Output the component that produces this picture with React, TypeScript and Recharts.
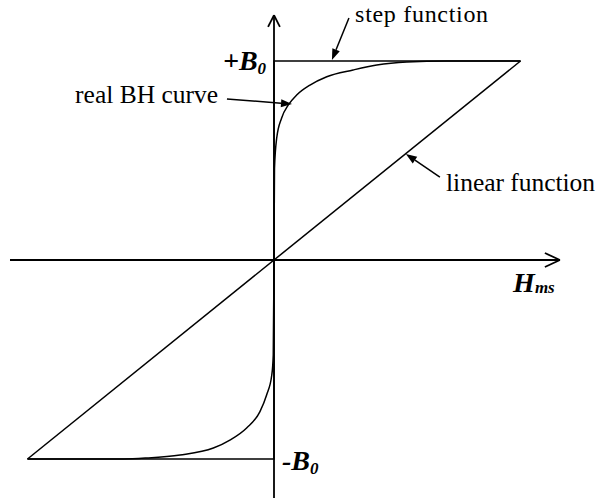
import React from 'react';
import { LineChart, Line, XAxis, YAxis, ReferenceLine, ReferenceDot } from 'recharts';

// normalised field strength H / H_max and flux density B / B0
const linearField = [-1, 1];
const linearFlux = [-1, 1];

const stepField = [-1, 0, 0, 1];
const stepFlux = [-1, -1, 1, 1];

const bhField = [
  -1.0, -0.61, -0.516, -0.381, -0.246, -0.179, -0.111, -0.057, -0.03, -0.009, -0.003,
  0, 0.002, 0.011, 0.031, 0.058, 0.092, 0.146, 0.214, 0.321, 0.417, 0.539, 0.7, 1.0,
];
const bhFlux = [
  -1.0, -1.0, -0.995, -0.98, -0.945, -0.905, -0.844, -0.762, -0.678, -0.578, -0.477,
  0, 0.46, 0.613, 0.714, 0.779, 0.829, 0.879, 0.921, 0.955, 0.98, 0.995, 1.0, 1.0,
];

const toPoints = (hs: number[], bs: number[]) => hs.map((h, i) => ({ h, b: bs[i] }));

const linearData = toPoints(linearField, linearFlux);
const stepData = toPoints(stepField, stepFlux);
const bhData = toPoints(bhField, bhFlux);

const INK = '#000';
const SERIF = 'Liberation Serif, Times New Roman, serif';

// plain segment with a filled head at its end point
function PointerShape(props: any) {
  const { x1, y1, x2, y2 } = props;
  const ang = Math.atan2(y2 - y1, x2 - x1);
  const len = 11;
  const half = 4;
  const bx = x2 - len * Math.cos(ang);
  const by = y2 - len * Math.sin(ang);
  const px = -Math.sin(ang) * half;
  const py = Math.cos(ang) * half;
  return (
    <g>
      <line x1={x1} y1={y1} x2={bx} y2={by} stroke={INK} strokeWidth={1.5} />
      <polygon points={`${x2},${y2} ${bx + px},${by + py} ${bx - px},${by - py}`} fill={INK} />
    </g>
  );
}

function textShape(content: React.ReactNode, anchor: 'start' | 'end', extra: React.SVGProps<SVGTextElement> = {}) {
  return (props: any) => (
    <text x={props.cx} y={props.cy} textAnchor={anchor} fontFamily={SERIF} fill={INK} {...extra}>
      {content}
    </text>
  );
}

const caption = { fontSize: 25.5 };
const symbol = { fontSize: 28, fontWeight: 'bold', fontStyle: 'italic' };
const axisStyle = { stroke: INK, strokeWidth: 1.8 };

export default function App() {
  return (
    <div style={{ position: 'absolute', left: 0, top: 0, background: '#fff' }}>
      <LineChart width={598} height={503} margin={{ top: 11.25, right: 28.2, bottom: 4.2, left: 2.85 }}>
        <XAxis type="number" dataKey="h" domain={[-1.1, 1.2]} hide allowDataOverflow />
        <YAxis type="number" dataKey="b" domain={[-1.2, 1.25]} hide allowDataOverflow />

        {/* coordinate axes with open arrow heads */}
        <ReferenceLine segment={[{ x: -1.071, y: 0 }, { x: 1.16, y: 0 }]} {...axisStyle} />
        <ReferenceLine segment={[{ x: 1.099, y: 0.035 }, { x: 1.16, y: 0 }]} {...axisStyle} />
        <ReferenceLine segment={[{ x: 1.099, y: -0.035 }, { x: 1.16, y: 0 }]} {...axisStyle} />
        <ReferenceLine segment={[{ x: 0, y: -1.196 }, { x: 0, y: 1.231 }]} {...axisStyle} />
        <ReferenceLine segment={[{ x: -0.024, y: 1.171 }, { x: 0, y: 1.231 }]} {...axisStyle} />
        <ReferenceLine segment={[{ x: 0.024, y: 1.171 }, { x: 0, y: 1.231 }]} {...axisStyle} />

        <Line data={stepData} dataKey="b" type="linear" stroke={INK} strokeWidth={1.5} dot={false} activeDot={false} isAnimationActive={false} />
        <Line data={linearData} dataKey="b" type="linear" stroke={INK} strokeWidth={1.5} dot={false} activeDot={false} isAnimationActive={false} />
        <Line data={bhData} dataKey="b" type="monotone" stroke={INK} strokeWidth={1.5} dot={false} activeDot={false} isAnimationActive={false} />

        {/* pointers from the captions to their curves */}
        <ReferenceLine segment={[{ x: 0.304, y: 1.216 }, { x: 0.235, y: 1.005 }]} shape={PointerShape} />
        <ReferenceLine segment={[{ x: -0.191, y: 0.809 }, { x: 0.073, y: 0.784 }]} shape={PointerShape} />
        <ReferenceLine segment={[{ x: 0.673, y: 0.417 }, { x: 0.535, y: 0.533 }]} shape={PointerShape} />

        <ReferenceDot x={0.329} y={1.196} r={0} shape={textShape('step function', 'start', { fontSize: 24, textLength: 133 })} />
        <ReferenceDot x={-0.807} y={0.789} r={0} shape={textShape('real BH curve', 'start', { ...caption, textLength: 143 })} />
        <ReferenceDot x={0.698} y={0.347} r={0} shape={textShape('linear function', 'start', { ...caption, textLength: 149 })} />

        <ReferenceDot
          x={-0.032}
          y={0.955}
          r={0}
          shape={textShape(
            <>
              +B<tspan fontSize={17} dy={4}>0</tspan>
            </>,
            'end',
            symbol,
          )}
        />
        <ReferenceDot
          x={0.032}
          y={-1.055}
          r={0}
          shape={textShape(
            <>
              -B<tspan fontSize={17} dy={4}>0</tspan>
            </>,
            'start',
            symbol,
          )}
        />
        <ReferenceDot
          x={0.97}
          y={-0.161}
          r={0}
          shape={textShape(
            <>
              H<tspan fontSize={17} dy={1}>ms</tspan>
            </>,
            'start',
            symbol,
          )}
        />
      </LineChart>
    </div>
  );
}
